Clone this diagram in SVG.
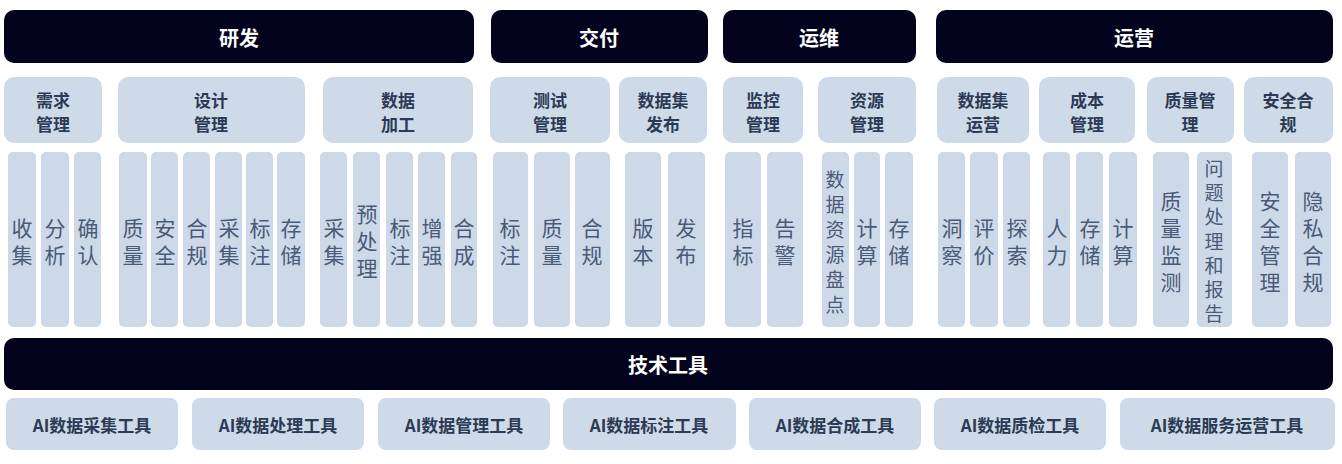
<svg xmlns="http://www.w3.org/2000/svg" width="1342" height="464" viewBox="0 0 1342 464">
<style>
.bar{fill:#03031d}
.bt{fill:#fff;font:bold 20px "Noto Sans CJK SC",sans-serif;text-anchor:middle;dominant-baseline:central}
.sub{fill:#cfdae8}
.st{fill:#2c3a55;font:bold 17px "Noto Sans CJK SC",sans-serif;text-anchor:middle;dominant-baseline:central}
.col{fill:#cdd9e8}
.ct{fill:#4a5a78;font:21px "Noto Sans CJK SC",sans-serif;text-anchor:middle;dominant-baseline:central}
.cs{font-size:19px}
.tt{fill:#2c3a55;font:bold 17px "Noto Sans CJK SC",sans-serif;text-anchor:middle;dominant-baseline:central}
</style>
<rect width="1342" height="464" fill="#fff"/>
<g id="headers">
<rect class="bar" x="4" y="10" width="470" height="53" rx="10"/><text class="bt" x="239" y="37">研发</text>
<rect class="bar" x="491" y="10" width="217" height="53" rx="10"/><text class="bt" x="599" y="37">交付</text>
<rect class="bar" x="723" y="10" width="193" height="53" rx="10"/><text class="bt" x="819" y="37">运维</text>
<rect class="bar" x="936" y="10" width="397" height="53" rx="10"/><text class="bt" x="1134" y="37">运营</text>
</g>
<g id="subheaders">
<rect class="sub" x="4" y="77" width="98" height="66" rx="10"/><text class="st" x="53" y="99">需求</text><text class="st" x="53" y="123">管理</text>
<rect class="sub" x="118" y="77" width="187" height="66" rx="10"/><text class="st" x="211" y="99">设计</text><text class="st" x="211" y="123">管理</text>
<rect class="sub" x="323" y="77" width="150" height="66" rx="10"/><text class="st" x="398" y="99">数据</text><text class="st" x="398" y="123">加工</text>
<rect class="sub" x="490" y="77" width="120" height="66" rx="10"/><text class="st" x="550" y="99">测试</text><text class="st" x="550" y="123">管理</text>
<rect class="sub" x="619" y="77" width="88" height="66" rx="10"/><text class="st" x="663" y="99">数据集</text><text class="st" x="663" y="123">发布</text>
<rect class="sub" x="723" y="77" width="80" height="66" rx="10"/><text class="st" x="763" y="99">监控</text><text class="st" x="763" y="123">管理</text>
<rect class="sub" x="818" y="77" width="98" height="66" rx="10"/><text class="st" x="867" y="99">资源</text><text class="st" x="867" y="123">管理</text>
<rect class="sub" x="937" y="77" width="92" height="66" rx="10"/><text class="st" x="983" y="99">数据集</text><text class="st" x="983" y="123">运营</text>
<rect class="sub" x="1039" y="77" width="96" height="66" rx="10"/><text class="st" x="1087" y="99">成本</text><text class="st" x="1087" y="123">管理</text>
<rect class="sub" x="1147" y="77" width="87" height="66" rx="10"/><text class="st" x="1190" y="99">质量管</text><text class="st" x="1190" y="123">理</text>
<rect class="sub" x="1244" y="77" width="89" height="66" rx="10"/><text class="st" x="1288" y="99">安全合</text><text class="st" x="1288" y="123">规</text>
</g>
<g id="columns">
<rect class="col" x="8" y="152" width="28" height="175" rx="5"/><text class="ct" x="22" y="227">收</text><text class="ct" x="22" y="254">集</text>
<rect class="col" x="41" y="152" width="28" height="175" rx="5"/><text class="ct" x="55" y="227">分</text><text class="ct" x="55" y="254">析</text>
<rect class="col" x="74" y="152" width="27" height="175" rx="5"/><text class="ct" x="88" y="227">确</text><text class="ct" x="88" y="254">认</text>
<rect class="col" x="119" y="152" width="28" height="175" rx="5"/><text class="ct" x="133" y="227">质</text><text class="ct" x="133" y="254">量</text>
<rect class="col" x="151" y="152" width="27" height="175" rx="5"/><text class="ct" x="165" y="227">安</text><text class="ct" x="165" y="254">全</text>
<rect class="col" x="183" y="152" width="27" height="175" rx="5"/><text class="ct" x="197" y="227">合</text><text class="ct" x="197" y="254">规</text>
<rect class="col" x="215" y="152" width="27" height="175" rx="5"/><text class="ct" x="229" y="227">采</text><text class="ct" x="229" y="254">集</text>
<rect class="col" x="246" y="152" width="27" height="175" rx="5"/><text class="ct" x="260" y="227">标</text><text class="ct" x="260" y="254">注</text>
<rect class="col" x="277" y="152" width="28" height="175" rx="5"/><text class="ct" x="291" y="227">存</text><text class="ct" x="291" y="254">储</text>
<rect class="col" x="320" y="152" width="27" height="175" rx="5"/><text class="ct" x="334" y="227">采</text><text class="ct" x="334" y="254">集</text>
<rect class="col" x="353" y="152" width="27" height="175" rx="5"/><text class="ct" x="367" y="213">预</text><text class="ct" x="367" y="240">处</text><text class="ct" x="367" y="267">理</text>
<rect class="col" x="386" y="152" width="27" height="175" rx="5"/><text class="ct" x="400" y="227">标</text><text class="ct" x="400" y="254">注</text>
<rect class="col" x="418" y="152" width="27" height="175" rx="5"/><text class="ct" x="432" y="227">增</text><text class="ct" x="432" y="254">强</text>
<rect class="col" x="451" y="152" width="26" height="175" rx="5"/><text class="ct" x="464" y="227">合</text><text class="ct" x="464" y="254">成</text>
<rect class="col" x="493" y="152" width="35" height="175" rx="5"/><text class="ct" x="510" y="227">标</text><text class="ct" x="510" y="254">注</text>
<rect class="col" x="534" y="152" width="36" height="175" rx="5"/><text class="ct" x="552" y="227">质</text><text class="ct" x="552" y="254">量</text>
<rect class="col" x="575" y="152" width="35" height="175" rx="5"/><text class="ct" x="592" y="227">合</text><text class="ct" x="592" y="254">规</text>
<rect class="col" x="625" y="152" width="36" height="175" rx="5"/><text class="ct" x="643" y="227">版</text><text class="ct" x="643" y="254">本</text>
<rect class="col" x="668" y="152" width="37" height="175" rx="5"/><text class="ct" x="686" y="227">发</text><text class="ct" x="686" y="254">布</text>
<rect class="col" x="725" y="152" width="36" height="175" rx="5"/><text class="ct" x="743" y="227">指</text><text class="ct" x="743" y="254">标</text>
<rect class="col" x="767" y="152" width="36" height="175" rx="5"/><text class="ct" x="785" y="227">告</text><text class="ct" x="785" y="254">警</text>
<rect class="col" x="822" y="152" width="27" height="175" rx="5"/><text class="ct cs" x="835" y="178">数</text><text class="ct cs" x="835" y="203">据</text><text class="ct cs" x="835" y="228">资</text><text class="ct cs" x="835" y="253">源</text><text class="ct cs" x="835" y="278">盘</text><text class="ct cs" x="835" y="303">点</text>
<rect class="col" x="854" y="152" width="26" height="175" rx="5"/><text class="ct" x="867" y="227">计</text><text class="ct" x="867" y="254">算</text>
<rect class="col" x="885" y="152" width="28" height="175" rx="5"/><text class="ct" x="899" y="227">存</text><text class="ct" x="899" y="254">储</text>
<rect class="col" x="938" y="152" width="27" height="175" rx="5"/><text class="ct" x="952" y="227">洞</text><text class="ct" x="952" y="254">察</text>
<rect class="col" x="970" y="152" width="28" height="175" rx="5"/><text class="ct" x="984" y="227">评</text><text class="ct" x="984" y="254">价</text>
<rect class="col" x="1003" y="152" width="27" height="175" rx="5"/><text class="ct" x="1017" y="227">探</text><text class="ct" x="1017" y="254">索</text>
<rect class="col" x="1043" y="152" width="27" height="175" rx="5"/><text class="ct" x="1057" y="227">人</text><text class="ct" x="1057" y="254">力</text>
<rect class="col" x="1076" y="152" width="27" height="175" rx="5"/><text class="ct" x="1090" y="227">存</text><text class="ct" x="1090" y="254">储</text>
<rect class="col" x="1109" y="152" width="28" height="175" rx="5"/><text class="ct" x="1123" y="227">计</text><text class="ct" x="1123" y="254">算</text>
<rect class="col" x="1153" y="152" width="36" height="175" rx="5"/><text class="ct" x="1171" y="200">质</text><text class="ct" x="1171" y="227">量</text><text class="ct" x="1171" y="254">监</text><text class="ct" x="1171" y="281">测</text>
<rect class="col" x="1197" y="152" width="35" height="175" rx="5"/><text class="ct cs" x="1214" y="167">问</text><text class="ct cs" x="1214" y="191">题</text><text class="ct cs" x="1214" y="215">处</text><text class="ct cs" x="1214" y="240">理</text><text class="ct cs" x="1214" y="264">和</text><text class="ct cs" x="1214" y="288">报</text><text class="ct cs" x="1214" y="312">告</text>
<rect class="col" x="1252" y="152" width="36" height="175" rx="5"/><text class="ct" x="1270" y="200">安</text><text class="ct" x="1270" y="227">全</text><text class="ct" x="1270" y="254">管</text><text class="ct" x="1270" y="281">理</text>
<rect class="col" x="1295" y="152" width="36" height="175" rx="5"/><text class="ct" x="1313" y="200">隐</text><text class="ct" x="1313" y="227">私</text><text class="ct" x="1313" y="254">合</text><text class="ct" x="1313" y="281">规</text>
</g>
<g id="tech">
<rect class="bar" x="4" y="338" width="1329" height="52" rx="10"/><text class="bt" x="668" y="364">技术工具</text>
</g>
<g id="tools">
<rect class="sub" x="6" y="398" width="172" height="52" rx="8"/><text class="tt" x="92" y="424">AI数据采集工具</text>
<rect class="sub" x="192" y="398" width="172" height="52" rx="8"/><text class="tt" x="278" y="424">AI数据处理工具</text>
<rect class="sub" x="378" y="398" width="172" height="52" rx="8"/><text class="tt" x="464" y="424">AI数据管理工具</text>
<rect class="sub" x="563" y="398" width="173" height="52" rx="8"/><text class="tt" x="649" y="424">AI数据标注工具</text>
<rect class="sub" x="749" y="398" width="172" height="52" rx="8"/><text class="tt" x="835" y="424">AI数据合成工具</text>
<rect class="sub" x="934" y="398" width="172" height="52" rx="8"/><text class="tt" x="1020" y="424">AI数据质检工具</text>
<rect class="sub" x="1120" y="398" width="215" height="52" rx="8"/><text class="tt" x="1227" y="424">AI数据服务运营工具</text>
</g>
<g id="connectors"/>
</svg>
